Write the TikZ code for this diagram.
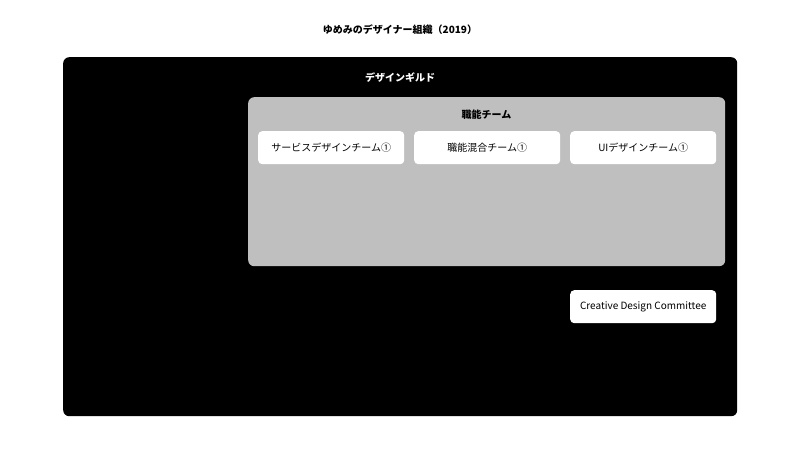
\documentclass[tikz,border=0pt]{standalone}
\usepackage{fontspec}
\setmainfont{Noto Sans CJK JP}
\begin{document}
\begin{tikzpicture}[x=1pt,y=-1pt,
  lbl/.style={font=\fontsize{10}{12}\selectfont\bfseries, inner sep=0pt},
  team/.style={draw=none, fill=white, rounded corners=4pt, minimum width=146pt, minimum height=33pt, inner sep=0pt, font=\fontsize{10}{12}\selectfont, anchor=north west}]
\useasboundingbox (0,0) rectangle (800,450);
\fill[white] (0,0) rectangle (800,450);
\node[lbl] (title) at (400,30) {ゆめみのデザイナー組織（2019）};
\node[fill=black, rounded corners=6pt, minimum width=674pt, minimum height=359pt, inner sep=0pt, anchor=north west] (guild) at (63,57) {};
\node[lbl, text=white] (guildlbl) at (400,78) {デザインギルド};
\node[fill=black!25, rounded corners=6pt, minimum width=477pt, minimum height=169pt, inner sep=0pt, anchor=north west] (func) at (248,97) {};
\node[lbl] (funclbl) at (486.5,115) {職能チーム};
\node[team] (svc) at (258,131) {サービスデザインチーム①};
\node[team] (mix) at (414,131) {職能混合チーム①};
\node[team] (ui) at (570,131) {UIデザインチーム①};
\node[team] (cdc) at (570,290) {Creative Design Committee};
\end{tikzpicture}
\end{document}
